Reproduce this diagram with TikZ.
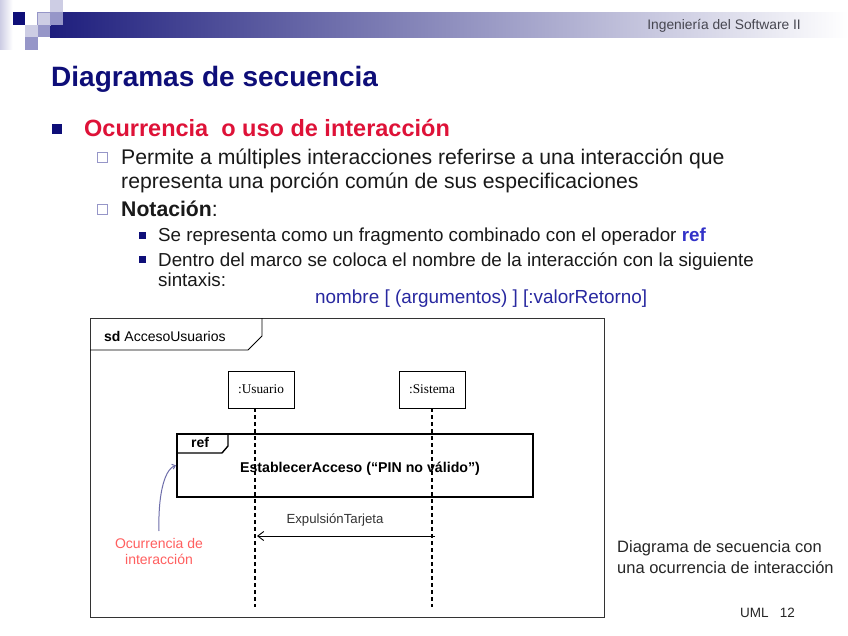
\documentclass[tikz,border=0pt]{standalone}
\usepackage{fontspec}
\setmainfont{Liberation Sans}
\newfontfamily\serifx{Liberation Serif}
\usetikzlibrary{arrows.meta}
\definecolor{navy}{RGB}{14,14,120}
\definecolor{bandnavy}{RGB}{30,30,125}
\definecolor{lavlight}{RGB}{205,205,228}
\definecolor{lavmed}{RGB}{150,150,200}
\definecolor{titlered}{RGB}{222,18,56}
\definecolor{refblue}{RGB}{50,50,200}
\definecolor{synblue}{RGB}{40,40,160}
\definecolor{annred}{RGB}{255,95,95}
\definecolor{connblue}{RGB}{110,110,170}
\definecolor{hdrgray}{RGB}{70,70,80}
\definecolor{txtgray}{RGB}{25,25,25}
\begin{document}
\begin{tikzpicture}[x=1pt,y=-1pt,
  txt/.style={inner sep=0pt, anchor=base west, text=txtgray},
  fz/.style={font=\fontsize{#1}{#1}\selectfont},
  bullA/.style={fill=navy},
  bullB/.style={draw=lavmed, fill=white, line width=0.6pt},
  lifebox/.style={draw, line width=0.8pt, minimum width=66pt, minimum height=37pt, inner sep=0pt, font=\serifx\fontsize{13.3}{14}\selectfont},
  lifeline/.style={line width=1.3pt, dash pattern=on 4pt off 3pt},
]
\useasboundingbox (0,0) rectangle (848,636);
\fill[white] (0,0) rectangle (848,636);
% header band and logo
\shade[left color=bandnavy, right color=white] (50,12.5) rectangle (848,37.5);
\shade[left color=lavlight, right color=white] (0,0) rectangle (12.5,50);
\fill[navy] (12.5,12.5) rectangle (25,25);
\fill[lavlight] (37.5,12.5) rectangle (50,25);
\draw[lavmed, line width=0.4pt] (37.5,12.5) rectangle (50,25);
\fill[lavmed] (50,12.5) rectangle (62.5,25);
\fill[lavlight] (50,0) rectangle (62.5,12.5);
\fill[lavlight] (25,25) rectangle (37.5,37.5);
\fill[lavmed] (37.5,25) rectangle (50,37.5);
\fill[lavmed] (25,37.5) rectangle (37.5,50);
\node[inner sep=0pt, anchor=base east, text=hdrgray, fz=13.8] (hdr) at (801,30) {Ingeniería del Software II};
% title
\node[inner sep=0pt, anchor=base west, text=navy, font=\bfseries\fontsize{28}{28}\selectfont] (title) at (51,87) {Diagramas de secuencia};
% bullets
\fill[bullA] (52,124) rectangle (62,134);
\node[inner sep=0pt, anchor=base west, text=titlered, font=\bfseries\fontsize{23.5}{23.5}\selectfont] (b1) at (84,137) {Ocurrencia\ \ o uso de interacción};
\filldraw[bullB] (97.5,152.5) rectangle (107.5,162.5);
\node[txt, fz=21.2] (b2a) at (121,165) {Permite a múltiples interacciones referirse a una interacción que};
\node[txt, fz=21.2] (b2b) at (121,189) {representa una porción común de sus especificaciones};
\filldraw[bullB] (97.5,204.5) rectangle (107.5,214.5);
\node[txt, fz=21.2] (b3) at (121,217) {\textbf{Notación}:};
\fill[bullA] (139,232) rectangle (146,239);
\node[txt, fz=18.8] (b4) at (158,242) {Se representa como un fragmento combinado con el operador \textcolor{refblue}{\textbf{ref}}};
\fill[bullA] (139,256) rectangle (146,263);
\node[txt, fz=18.8] (b5a) at (158,266) {Dentro del marco se coloca el nombre de la interacción con la siguiente};
\node[txt, fz=18.8] (b5b) at (158,287) {sintaxis:};
\node[inner sep=0pt, anchor=base west, text=synblue, fz=18.9] (syn) at (315,303) {nombre [ (argumentos) ] [:valorRetorno]};
% diagram frame
\node[draw=black!80, line width=1.2pt, minimum width=514pt, minimum height=299pt, inner sep=0pt, anchor=north west] (frame) at (90,318) {};
\draw[line width=0.8pt] (frame.north west |- 0,350) -- (248,350) -- (262,336) -- (262,318);
\node[txt, text=black, fz=14] (sd) at (104,341) {\textbf{sd} AccesoUsuarios};
% lifelines
\node[lifebox] (u) at (261,389.5) {:Usuario};
\node[lifebox] (s) at (432,389.5) {:Sistema};
% ref fragment
\node[draw, line width=1.8pt, minimum width=356pt, minimum height=63pt, inner sep=0pt, anchor=north west] (ref) at (176,433) {};
\draw[line width=1.4pt] (ref.north west |- 0,453) -- (222,453) -- (228,446) -- (228,433);
\node[inner sep=0pt, anchor=base, font=\bfseries\fontsize{14}{14}\selectfont] (reflbl) at (200,447) {ref};
\node[inner sep=0pt, anchor=base, font=\bfseries\fontsize{14.2}{14.2}\selectfont] (refname) at (360,472) {EstablecerAcceso (“PIN no válido”)};
\coordinate (uend) at (255,607);
\coordinate (send) at (432,607);
\draw[lifeline] (uend |- u.south) -- (uend);
\draw[lifeline] (send |- s.south) -- (send);
% message
\coordinate (ms) at (435,536);
\coordinate (mr) at (257,536);
\draw[line width=0.9pt, -{Straight Barb[length=6pt, width=9pt]}] (ms) -- (mr);
\node[inner sep=0pt, anchor=base, text=black!80, fz=13.2] (msg) at (335,523) {ExpulsiónTarjeta};
% annotation
\node[inner sep=0pt, align=center, text=annred, font=\fontsize{14}{16.5}\selectfont, anchor=north] (ann) at (159,538) {Ocurrencia de\\interacción};
\draw[connblue, line width=1pt, -{Straight Barb[length=3pt, width=5pt]}] (ann.north) ++(0,-7) .. controls (158,500) and (163,470) .. (ref.west);
% caption
\node[txt, text=black!85, fz=16.5] (cap1) at (617,552) {Diagrama de secuencia con};
\node[txt, text=black!85, fz=16.5] (cap2) at (617,573) {una ocurrencia de interacción};
\node[txt, text=black!85, fz=13.5] (pg) at (740,617) {UML\ \ \ 12};
\end{tikzpicture}
\end{document}
